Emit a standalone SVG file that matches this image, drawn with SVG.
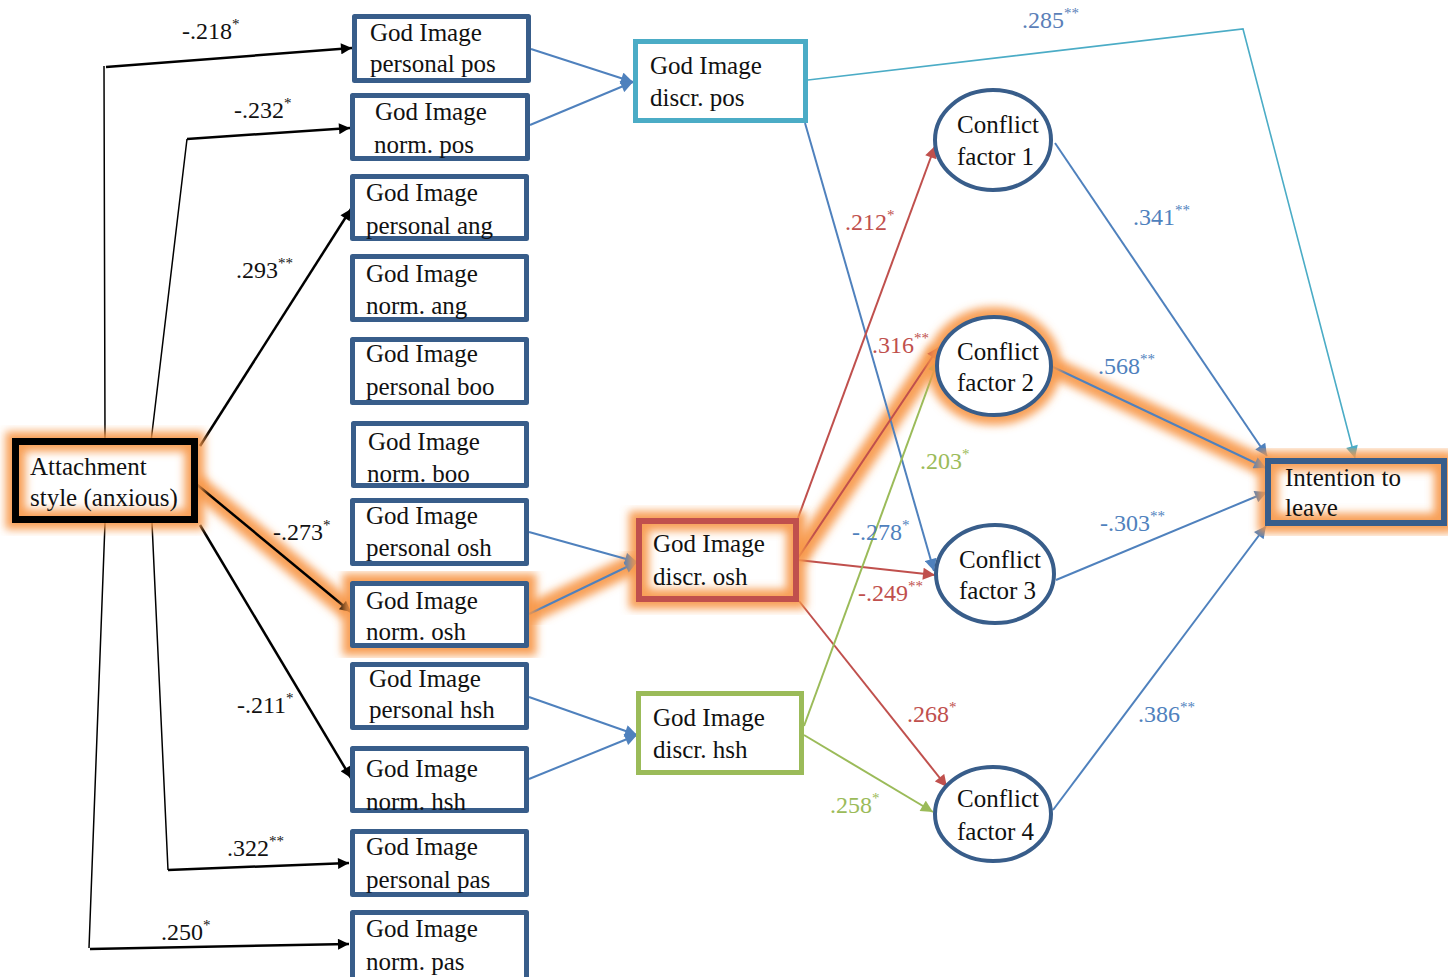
<svg xmlns="http://www.w3.org/2000/svg" width="1448" height="977" viewBox="0 0 1448 977">
<style>
.t{font-family:"Liberation Serif","Times New Roman",serif;font-size:25px;fill:#111}
.l{font-family:"Liberation Serif","Times New Roman",serif;font-size:24px}
.s{font-size:15px}
.box{fill:#fff;stroke:#385d8a;stroke-width:5;stroke-linejoin:round}
.ell{fill:#fff;stroke:#385d8a;stroke-width:4}
.blk{fill:none;stroke:#000;stroke-width:2.5}
.thin{fill:none;stroke:#000;stroke-width:1.5}
.blu{fill:none;stroke:#4f81bd;stroke-width:2}
.red{fill:none;stroke:#c0504d;stroke-width:2}
.grn{fill:none;stroke:#9bbb59;stroke-width:2}
.tea{fill:none;stroke:#4bacc6;stroke-width:1.6}
.glow{fill:none;stroke:#f79646;stroke-width:20;stroke-opacity:0.9;filter:url(#blur)}
.cb{fill:#4f81bd}.cr{fill:#c0504d}.cg{fill:#9bbb59}.ck{fill:#111}.cp{fill:#5b7fb8}
</style>
<defs>
<filter id="blur" x="-20%" y="-20%" width="140%" height="140%"><feGaussianBlur stdDeviation="4"/></filter>
<marker id="mk" viewBox="0 0 10 10" refX="10" refY="5" markerWidth="13" markerHeight="11" markerUnits="userSpaceOnUse" orient="auto"><path d="M0,0L10,5L0,10z" fill="#000"/></marker>
<marker id="mb" viewBox="0 0 10 10" refX="10" refY="5" markerWidth="13" markerHeight="12" markerUnits="userSpaceOnUse" orient="auto"><path d="M0,0L10,5L0,10z" fill="#4f81bd"/></marker>
<marker id="mr" viewBox="0 0 10 10" refX="10" refY="5" markerWidth="13" markerHeight="12" markerUnits="userSpaceOnUse" orient="auto"><path d="M0,0L10,5L0,10z" fill="#c0504d"/></marker>
<marker id="mg" viewBox="0 0 10 10" refX="10" refY="5" markerWidth="13" markerHeight="12" markerUnits="userSpaceOnUse" orient="auto"><path d="M0,0L10,5L0,10z" fill="#9bbb59"/></marker>
<marker id="mt" viewBox="0 0 10 10" refX="10" refY="5" markerWidth="13" markerHeight="12" markerUnits="userSpaceOnUse" orient="auto"><path d="M0,0L10,5L0,10z" fill="#4bacc6"/></marker>
</defs>
<rect width="1448" height="977" fill="#fff"/>

<g id="highlight">
<path class="glow" d="M195,483L350,612"/>
<path class="glow" d="M528,614L637,562"/>
<path class="glow" d="M798,558L938,350"/>
<path class="glow" d="M1053,367L1265,467"/>
</g>

<g id="connectors">
<path class="thin" d="M104,66L105,440M105,523L89,948"/>
<path class="thin" d="M150,450L187,139M152,523L168,870"/>
<path class="blk" d="M106,67L352,48" marker-end="url(#mk)"/>
<path class="blk" d="M187,139L350,128" marker-end="url(#mk)"/>
<path class="blk" d="M200,446L351,209" marker-end="url(#mk)"/>
<path class="blk" d="M195,483L351,612" stroke-width="3" marker-end="url(#mk)"/>
<path class="blk" d="M200,525L351,778" marker-end="url(#mk)"/>
<path class="blk" d="M168,870L349,863" marker-end="url(#mk)"/>
<path class="blk" d="M90,949L349,944" marker-end="url(#mk)"/>

<path class="blu" d="M531,49L633,82" marker-end="url(#mb)"/>
<path class="blu" d="M530,125L633,82" marker-end="url(#mb)"/>
<path class="blu" d="M529,532L637,562" marker-end="url(#mb)"/>
<path class="blu" d="M529,614L637,562" marker-end="url(#mb)"/>
<path class="blu" d="M529,697L637,735" marker-end="url(#mb)"/>
<path class="blu" d="M529,779L637,735" marker-end="url(#mb)"/>

<path class="tea" d="M808,80L1243,29L1355,458" marker-end="url(#mt)"/>
<path class="blu" d="M805,123L934,571" marker-end="url(#mb)"/>

<path class="red" d="M798,518L935,146" marker-end="url(#mr)"/>
<path class="red" d="M798,558L939,347" stroke-width="2.6" marker-end="url(#mr)"/>
<path class="red" d="M798,560L935,575" marker-end="url(#mr)"/>
<path class="red" d="M799,601L947,787" marker-end="url(#mr)"/>

<path class="grn" d="M804,726L938,360" marker-end="url(#mg)"/>
<path class="grn" d="M804,735L933,812" marker-end="url(#mg)"/>

<path class="blu" d="M1055,143L1267,456" marker-end="url(#mb)"/>
<path class="blu" d="M1053,367L1266,468" stroke-width="2.4" marker-end="url(#mb)"/>
<path class="blu" d="M1056,580L1267,492" marker-end="url(#mb)"/>
<path class="blu" d="M1053,810L1266,526" marker-end="url(#mb)"/>
</g>

<g id="labels">
<text class="l ck" x="182" y="39">-.218<tspan class="s" dy="-10">*</tspan></text>
<text class="l ck" x="234" y="118">-.232<tspan class="s" dy="-10">*</tspan></text>
<text class="l ck" x="236" y="278">.293<tspan class="s" dy="-10">**</tspan></text>
<text class="l ck" x="273" y="540">-.273<tspan class="s" dy="-10">*</tspan></text>
<text class="l ck" x="237" y="713">-.211<tspan class="s" dy="-10">*</tspan></text>
<text class="l ck" x="227" y="856">.322<tspan class="s" dy="-10">**</tspan></text>
<text class="l ck" x="161" y="940">.250<tspan class="s" dy="-10">*</tspan></text>
<text class="l cp" x="1022" y="28">.285<tspan class="s" dy="-10">**</tspan></text>
<text class="l cr" x="845" y="230">.212<tspan class="s" dy="-10">*</tspan></text>
<text class="l cb" x="1133" y="225">.341<tspan class="s" dy="-10">**</tspan></text>
<text class="l cr" x="872" y="353">.316<tspan class="s" dy="-10">**</tspan></text>
<text class="l cb" x="1098" y="374">.568<tspan class="s" dy="-10">**</tspan></text>
<text class="l cg" x="920" y="469">.203<tspan class="s" dy="-10">*</tspan></text>
<text class="l cb" x="852" y="540">-.278<tspan class="s" dy="-10">*</tspan></text>
<text class="l cb" x="1100" y="531">-.303<tspan class="s" dy="-10">**</tspan></text>
<text class="l cr" x="858" y="601">-.249<tspan class="s" dy="-10">**</tspan></text>
<text class="l cr" x="907" y="722">.268<tspan class="s" dy="-10">*</tspan></text>
<text class="l cb" x="1138" y="722">.386<tspan class="s" dy="-10">**</tspan></text>
<text class="l cg" x="830" y="813">.258<tspan class="s" dy="-10">*</tspan></text>
</g>

<g id="attachment">
<rect x="15.5" y="441.5" width="179" height="78" fill="#fff"/>
<rect class="glow" x="15.5" y="441.5" width="179" height="78"/>
<rect x="15.5" y="441.5" width="179" height="78" fill="none" stroke="#000" stroke-width="7"/>
<text class="t" x="30" y="475">Attachment</text>
<text class="t" x="30" y="506">style (anxious)</text>
</g>

<g id="gi-personal-pos"><rect class="box" x="354.5" y="16.5" width="174" height="64"/><text class="t" x="370" y="41">God Image</text><text class="t" x="370" y="72">personal pos</text></g>
<g id="gi-norm-pos"><rect class="box" x="352.5" y="95.5" width="175" height="63"/><text class="t" x="375" y="120">God Image</text><text class="t" x="374" y="153">norm. pos</text></g>
<g id="gi-personal-ang"><rect class="box" x="352.5" y="176.5" width="174" height="62"/><text class="t" x="366" y="201">God Image</text><text class="t" x="366" y="234">personal ang</text></g>
<g id="gi-norm-ang"><rect class="box" x="352.5" y="256.5" width="174" height="63"/><text class="t" x="366" y="282">God Image</text><text class="t" x="366" y="314">norm. ang</text></g>
<g id="gi-personal-boo"><rect class="box" x="352.5" y="339.5" width="174" height="63"/><text class="t" x="366" y="362">God Image</text><text class="t" x="366" y="395">personal boo</text></g>
<g id="gi-norm-boo"><rect class="box" x="353.5" y="423.5" width="173" height="62"/><text class="t" x="368" y="450">God Image</text><text class="t" x="367" y="482">norm. boo</text></g>
<g id="gi-personal-osh"><rect class="box" x="352.5" y="500.5" width="174" height="63"/><text class="t" x="366" y="524">God Image</text><text class="t" x="366" y="556">personal osh</text></g>
<g id="gi-norm-osh"><rect x="352.5" y="583.5" width="174" height="62" fill="#fff"/><rect class="glow" x="352.5" y="583.5" width="174" height="62"/><rect class="box" x="352.5" y="583.5" width="174" height="62" fill="none"/><text class="t" x="366" y="609">God Image</text><text class="t" x="366" y="640">norm. osh</text></g>
<g id="gi-personal-hsh"><rect class="box" x="352.5" y="664.5" width="174" height="63"/><text class="t" x="369" y="687">God Image</text><text class="t" x="369" y="718">personal hsh</text></g>
<g id="gi-norm-hsh"><rect class="box" x="352.5" y="748.5" width="174" height="62"/><text class="t" x="366" y="777">God Image</text><text class="t" x="366" y="810">norm. hsh</text></g>
<g id="gi-personal-pas"><rect class="box" x="352.5" y="831.5" width="174" height="63"/><text class="t" x="366" y="855">God Image</text><text class="t" x="366" y="888">personal pas</text></g>
<g id="gi-norm-pas"><rect class="box" x="352.5" y="912.5" width="174" height="72"/><text class="t" x="366" y="937">God Image</text><text class="t" x="366" y="970">norm. pas</text></g>

<g id="gi-discr-pos"><rect x="635.5" y="41.5" width="170" height="79" fill="#fff" stroke="#4bacc6" stroke-width="5"/><text class="t" x="650" y="74">God Image</text><text class="t" x="650" y="106">discr. pos</text></g>
<g id="gi-discr-osh"><rect x="639" y="521" width="157" height="78" fill="#fff"/><rect class="glow" x="639" y="521" width="157" height="78"/><rect x="639" y="521" width="157" height="78" fill="none" stroke="#c0504d" stroke-width="6"/><text class="t" x="653" y="552">God Image</text><text class="t" x="653" y="585">discr. osh</text></g>
<g id="gi-discr-hsh"><rect x="638.5" y="693.5" width="163" height="79" fill="#fff" stroke="#9bbb59" stroke-width="5"/><text class="t" x="653" y="726">God Image</text><text class="t" x="653" y="758">discr. hsh</text></g>

<g id="conflict-1"><ellipse class="ell" cx="993" cy="140" rx="58" ry="50"/><text class="t" x="957" y="133">Conflict</text><text class="t" x="957" y="165">factor 1</text></g>
<g id="conflict-2"><ellipse cx="994" cy="366" rx="57" ry="49" fill="#fff"/><ellipse class="glow" cx="994" cy="366" rx="57" ry="49"/><ellipse class="ell" cx="994" cy="366" rx="57" ry="49" fill="none" stroke-width="5"/><text class="t" x="957" y="360">Conflict</text><text class="t" x="957" y="391">factor 2</text></g>
<g id="conflict-3"><ellipse class="ell" cx="995" cy="574" rx="59" ry="49"/><text class="t" x="959" y="568">Conflict</text><text class="t" x="959" y="599">factor 3</text></g>
<g id="conflict-4"><ellipse class="ell" cx="993" cy="814" rx="58" ry="47"/><text class="t" x="957" y="807">Conflict</text><text class="t" x="957" y="840">factor 4</text></g>

<g id="intention"><rect x="1268" y="461" width="176" height="62" fill="#fff"/><rect class="glow" x="1268" y="461" width="176" height="62"/><rect x="1268" y="461" width="176" height="62" fill="none" stroke="#385d8a" stroke-width="6"/><text class="t" x="1285" y="486">Intention to</text><text class="t" x="1285" y="516">leave</text></g>
</svg>
